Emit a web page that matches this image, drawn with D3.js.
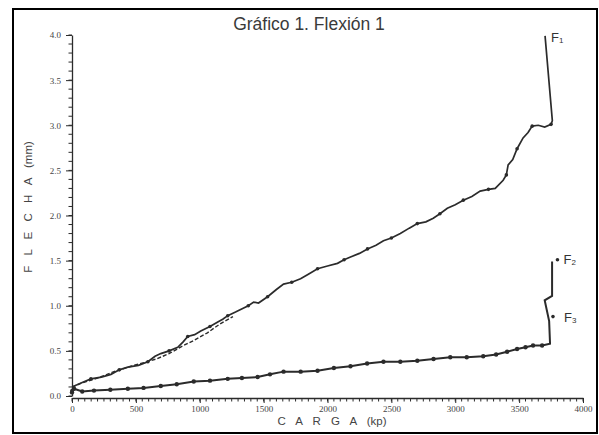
<!DOCTYPE html>
<html><head><meta charset="utf-8">
<script src="https://cdn.jsdelivr.net/npm/d3@7"></script>
<style>body{margin:0;background:#fff}svg{display:block}</style>
</head><body>
<svg id="c" width="599" height="435"></svg>
<script>
// ---- data (carga kp, flecha mm) ----
const titleText = "Gráfico 1. Flexión 1";
const xTicks = [0,500,1000,1500,2000,2500,3000,3500,4000];
const yTicks = [0,0.5,1.0,1.5,2.0,2.5,3.0,3.5,4.0];
const f1 = [[0,0.06],[16,0.11],[80,0.15],[148,0.19],[230,0.21],[305,0.24],[370,0.29],[437,0.32],[520,0.34],[594,0.38],[650,0.44],[695,0.47],[760,0.5],[828,0.54],[870,0.6],[906,0.66],[960,0.68],[1008,0.72],[1080,0.77],[1141,0.82],[1180,0.85],[1219,0.89],[1280,0.93],[1336,0.97],[1380,1.0],[1422,1.04],[1460,1.03],[1531,1.1],[1600,1.18],[1656,1.24],[1720,1.26],[1789,1.3],[1850,1.35],[1922,1.41],[2000,1.44],[2078,1.47],[2130,1.51],[2180,1.54],[2250,1.58],[2313,1.63],[2380,1.67],[2438,1.72],[2500,1.75],[2570,1.8],[2640,1.86],[2703,1.91],[2770,1.93],[2828,1.97],[2880,2.02],[2938,2.08],[3000,2.12],[3063,2.17],[3130,2.21],[3195,2.27],[3260,2.29],[3313,2.3],[3375,2.39],[3400,2.45],[3414,2.56],[3450,2.62],[3484,2.74],[3531,2.86],[3570,2.92],[3602,2.99],[3650,3.0],[3700,2.98],[3750,3.01],[3760,3.05],[3703,3.99]];
const f1b = [[0,0.1],[70,0.14],[203,0.2],[328,0.27],[461,0.33],[563,0.37],[660,0.41],[760,0.47],[860,0.55],[960,0.62],[1060,0.7],[1160,0.8],[1260,0.88]];
const f2 = [[0,0.04],[16,0.08],[80,0.05],[172,0.06],[300,0.07],[437,0.08],[560,0.09],[695,0.11],[820,0.13],[953,0.16],[1080,0.17],[1219,0.19],[1330,0.2],[1453,0.21],[1550,0.24],[1656,0.27],[1790,0.27],[1922,0.28],[2050,0.31],[2180,0.33],[2310,0.36],[2438,0.38],[2570,0.38],[2703,0.39],[2830,0.41],[2961,0.43],[3090,0.43],[3219,0.44],[3320,0.46],[3406,0.49],[3484,0.52],[3550,0.54],[3609,0.56],[3680,0.56],[3742,0.58],[3735,0.83],[3700,1.06],[3758,1.11],[3758,1.49]];
const f2end = [[3800,1.51]];
const f3 = [[3765,0.88]];

const svg = d3.select("#c");
const x = d3.scaleLinear().domain([0,4000]).range([72,583]);
const y = d3.scaleLinear().domain([0,4]).range([396,35]);
const ink = "#2b2b2b";

// frame
svg.append("rect").attr("x",13).attr("y",9).attr("width",584).attr("height",424)
  .attr("fill","none").attr("stroke","#000").attr("stroke-width",2);

// title
svg.append("text").attr("x",309).attr("y",30).attr("text-anchor","middle")
  .attr("font-family","Liberation Sans, Arial, sans-serif").attr("font-size",17.5)
  .attr("fill","#3a3a3a").text(titleText);

// y axis
const yAxis = d3.axisLeft(y).tickValues(yTicks).tickFormat(d3.format(".1f")).tickSize(6).tickSizeOuter(0);
const gy = svg.append("g").attr("transform","translate(72,0)").call(yAxis);
gy.append("g").selectAll("line").data(d3.range(0,41).map(d=>d/10)).join("line")
  .attr("x1",-3.5).attr("x2",0).attr("y1",d=>y(d)).attr("y2",d=>y(d)).attr("stroke",ink);
// x axis
const xAxis = d3.axisBottom(x).tickValues(xTicks).tickFormat(d3.format("d")).tickSize(5).tickSizeOuter(0);
const gx = svg.append("g").attr("transform",`translate(0,${y(0)+2})`).call(xAxis);
gx.append("g").selectAll("line").data(d3.range(0,4001,50)).join("line")
  .attr("x1",d=>x(d)).attr("x2",d=>x(d)).attr("y1",0).attr("y2",3.5).attr("stroke",ink);
[gx,gy].forEach(g=>{
  g.select(".domain").attr("stroke",ink).attr("stroke-width",1.3);
  g.selectAll(".tick line").attr("stroke",ink);
  g.selectAll(".tick text").attr("font-family","Liberation Serif, serif").attr("font-size",9).attr("fill","#444");
});
gy.selectAll(".tick text").attr("dx",-2);

// axis titles
const yt = svg.append("text").attr("transform","translate(32,207) rotate(-90)").attr("text-anchor","middle")
  .attr("font-family","Liberation Sans, Arial, sans-serif").attr("font-size",11.5).attr("fill","#444");
yt.append("tspan").attr("letter-spacing",3.5).text("F L E C H A ");
yt.append("tspan").text(" (mm)");
const xt = svg.append("text").attr("x",332).attr("y",425).attr("text-anchor","middle")
  .attr("font-family","Liberation Sans, Arial, sans-serif").attr("font-size",11.5).attr("fill","#444");
xt.append("tspan").attr("letter-spacing",3.5).text("C A R G A ");
xt.append("tspan").text("   (kp)");

// series
const line = d3.line().x(d=>x(d[0])).y(d=>y(d[1]));
svg.append("path").datum(f1b).attr("d",line).attr("fill","none").attr("stroke",ink)
  .attr("stroke-width",1.4).attr("stroke-dasharray","4,2");
svg.append("path").datum(f1).attr("d",line).attr("fill","none").attr("stroke",ink).attr("stroke-width",1.7);
svg.append("path").datum(f2).attr("d",line).attr("fill","none").attr("stroke",ink).attr("stroke-width",2);
svg.append("g").selectAll("circle").data(f2.slice(0,-5)).join("circle")
  .attr("cx",d=>x(d[0])).attr("cy",d=>y(d[1])).attr("r",2.2).attr("fill",ink);
svg.append("g").selectAll("circle").data(f1.filter((d,i)=>i%3===0)).join("circle")
  .attr("cx",d=>x(d[0])).attr("cy",d=>y(d[1])).attr("r",1.8).attr("fill",ink);
svg.append("g").selectAll("circle").data(f2end.concat(f3)).join("circle")
  .attr("cx",d=>x(d[0])).attr("cy",d=>y(d[1])).attr("r",1.8).attr("fill",ink);

// series labels
function lab(px,py,sub){
  const t = svg.append("text").attr("x",px).attr("y",py)
    .attr("font-family","Liberation Sans, Arial, sans-serif").attr("font-size",13).attr("fill","#333");
  t.append("tspan").text("F");
  t.append("tspan").attr("font-size",8).attr("dy",1).text(sub);
}
const e1 = f1[f1.length-1], e2 = f2end[0], e3 = f3[0];
lab(x(e1[0])+6, y(e1[1])+6, "1");
lab(x(e2[0])+6, y(e2[1])+4, "2");
lab(x(e3[0])+11, y(e3[1])+5, "3");
</script>
</body></html>
